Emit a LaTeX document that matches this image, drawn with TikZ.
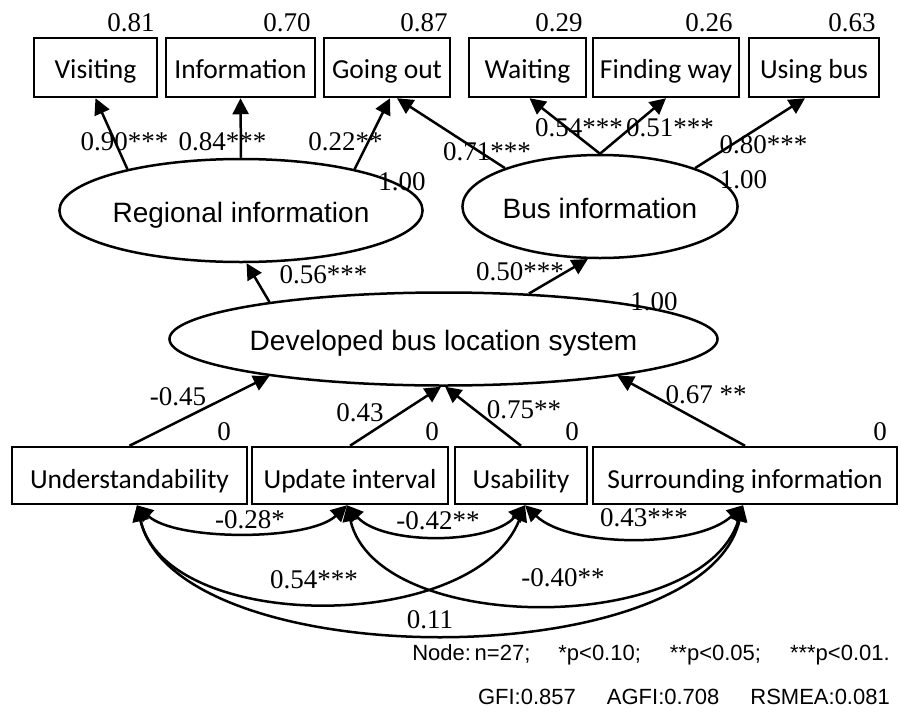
\documentclass[tikz,border=0pt]{standalone}
\usepackage{fontspec}
\setmainfont{Liberation Serif}
\newfontfamily\boxfont{Carlito}
\newfontfamily\ellfont{Liberation Sans}
\usetikzlibrary{shapes.geometric,arrows.meta}
\begin{document}
\begin{tikzpicture}[x=1pt,y=-1pt,
  obs/.style={draw, line width=2.5pt, rectangle, inner sep=0pt, text height=24pt, text depth=3pt, font=\boxfont\fontsize{27.5}{30}\selectfont},
  obsb/.style={obs, text height=27pt, text depth=2pt},
  lat/.style={draw, line width=2.5pt, ellipse, inner sep=0pt, text height=26pt, text depth=3pt, font=\ellfont\fontsize{28}{30}\selectfont},
  num/.style={inner sep=0pt, font=\fontsize{27}{30}\selectfont},
  foot/.style={inner sep=0pt, anchor=east, font=\ellfont\fontsize{22}{26}\selectfont},
  arr/.style={line width=2.5pt, -{Triangle[length=16pt,width=16pt]}},
  darr/.style={line width=2.5pt, {Triangle[length=16pt,width=16pt]}-{Triangle[length=16pt,width=16pt]}},
]
\fill[white] (0,0) rectangle (901,715);
\useasboundingbox (0,0) rectangle (901,715);

% top observed boxes
\node[obs, minimum width=123pt, minimum height=59pt] (vis) at (95.5,67.5) {Visiting};
\node[obs, minimum width=149pt, minimum height=59pt] (inf) at (240.5,67.5) {Information};
\node[obs, minimum width=126pt, minimum height=59pt] (go) at (387,67.5) {Going out};
\node[obs, minimum width=117pt, minimum height=59pt] (wai) at (527.5,67.5) {Waiting};
\node[obs, minimum width=146pt, minimum height=59pt] (fin) at (666,67.5) {Finding way};
\node[obs, minimum width=130pt, minimum height=59pt] (usb) at (814,67.5) {Using bus};

% latent ellipses
\node[lat, minimum width=278pt, minimum height=103pt] (reg) at (241,210.5) {Regional information};
\node[lat, minimum width=254pt, minimum height=103pt] (bus) at (600,206.5) {Bus information};
\node[lat, minimum width=431pt, minimum height=93pt] (dev) at (443.5,339) {Developed bus location system};

% bottom observed boxes
\node[obsb, minimum width=235pt, minimum height=57pt] (und) at (129.5,475.5) {Understandability};
\node[obsb, minimum width=196pt, minimum height=57pt] (upd) at (350,475.5) {Update interval};
\node[obsb, minimum width=132pt, minimum height=57pt] (usa) at (521,475.5) {Usability};
\node[obsb, minimum width=304pt, minimum height=57pt] (sur) at (745,475.5) {Surrounding information};

% top arrows
\draw[arr] (reg.160) -- (vis.south);
\draw[arr] (reg.north) -- (inf.south);
\draw[arr] (reg.20) -- ([xshift=3pt]go.south);
\draw[arr] (bus.158) -- ([xshift=10pt]go.south);
\draw[arr] (bus.north) -- ([xshift=2pt]wai.south);
\draw[arr] (bus.north) -- (fin.south);
\draw[arr] (bus.22) -- ([xshift=-9pt]usb.south);

% middle arrows
\draw[arr] (dev.168) -- (reg.-84);
\draw[arr] (dev.28) -- (bus.-103);

% bottom arrows
\draw[arr] (und.north) -- (dev.192);
\draw[arr] (upd.north) -- (dev.-93);
\draw[arr] (usa.north) -- (dev.-88);
\draw[arr] (sur.north) -- (dev.-12);

% correlation end points
\coordinate (cu) at ([xshift=7.5pt]und.south);
\coordinate (cp) at ([xshift=-3pt]upd.south);
\coordinate (ca) at ([xshift=4pt]usa.south);
\coordinate (cs) at ([xshift=-2pt]sur.south);

\draw[darr] (cu) .. controls +(38,36) and +(-38,36) .. (cp);
\draw[darr] (cp) .. controls +(35,40) and +(-35,40) .. (ca);
\draw[darr] (ca) .. controls +(45,43) and +(-45,43) .. (cs);
\draw[darr] (cu) .. controls +(30,129) and +(-50,129) .. (ca);
\draw[darr] (cp) .. controls +(30,131) and +(-40,131) .. (cs);
\draw[darr] (cu) .. controls +(40,171) and +(-40,171) .. (cs);

% numbers top
\node[num] (n81) at (131,23) {0.81};
\node[num] (n70) at (287,23) {0.70};
\node[num] (n87) at (424,23) {0.87};
\node[num] (n29) at (559,23) {0.29};
\node[num] (n26) at (709,23) {0.26};
\node[num] (n63) at (852,23) {0.63};

\node[num] (l90) at (124.5,142) {0.90***};
\node[num] (l84) at (222.5,142) {0.84***};
\node[num] (l22) at (345.5,142) {0.22**};
\node[num] (r100) at (402,182) {1.00};
\node[num] (l71) at (487,152) {0.71***};
\node[num] (l54t) at (579,128) {0.54***};
\node[num] (l51) at (670,128) {0.51***};
\node[num] (l80) at (763.5,145) {0.80***};
\node[num] (b100) at (743.5,180) {1.00};

\node[num] (l56) at (323.5,275) {0.56***};
\node[num] (l50) at (520,272) {0.50***};
\node[num] (d100) at (654,302) {1.00};

\node[num] (l45) at (178,397) {-0.45};
\node[num] (z1) at (224,432) {0};
\node[num] (l43) at (360,413) {0.43};
\node[num] (z2) at (432,432) {0};
\node[num] (l75) at (524,410) {0.75**};
\node[num] (z3) at (572,432) {0};
\node[num] (l67) at (706,395) {0.67 **};
\node[num] (z4) at (880,432) {0};

% correlation labels
\node[num] (c28) at (250,520) {-0.28*};
\node[num] (c42) at (438,521) {-0.42**};
\node[num] (c43) at (644,518) {0.43***};
\node[num] (c54) at (314,580) {0.54***};
\node[num] (c40) at (563,578) {-0.40**};
\node[num] (c11) at (430,620) {0.11};

% footer
\node[foot] (f1) at (890,655) {Node:\,n=27;\hspace{28pt}*p<0.10;\hspace{29pt}**p<0.05;\hspace{29pt}***p<0.01.};
\node[foot] (f2) at (890,697) {GFI:0.857\hspace{31pt}AGFI:0.708\hspace{31pt}RSMEA:0.081};
\end{tikzpicture}
\end{document}
